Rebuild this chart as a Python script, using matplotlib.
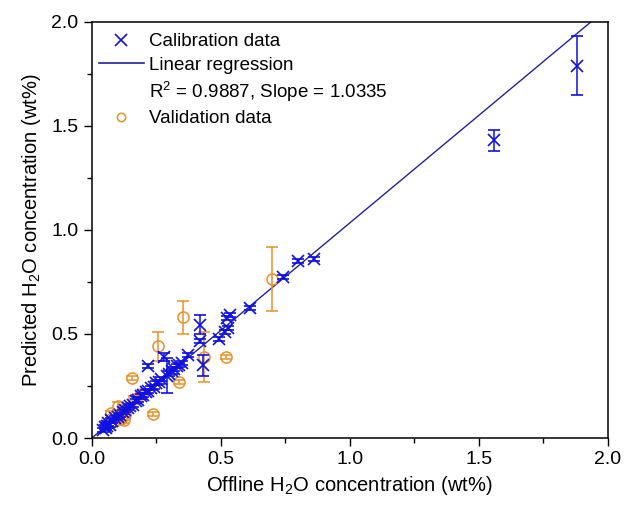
import matplotlib
matplotlib.use('Agg')
import matplotlib.pyplot as plt
from matplotlib.lines import Line2D
import numpy as np

plt.rcParams['font.family'] = ['Liberation Sans', 'DejaVu Sans']
plt.rcParams['mathtext.fontset'] = 'custom'
plt.rcParams['mathtext.rm'] = 'Liberation Sans'

# calibration data (offline, predicted, error)
cal_x = [1.88, 1.56, 0.86, 0.80, 0.74, 0.615, 0.535, 0.525, 0.53, 0.515, 0.495,
         0.42, 0.42, 0.43, 0.375, 0.34, 0.28, 0.29, 0.22, 0.31, 0.30, 0.27,
         0.26, 0.25, 0.24, 0.23, 0.22, 0.21, 0.20, 0.19, 0.18, 0.17, 0.16,
         0.15, 0.14, 0.13, 0.12, 0.11, 0.10, 0.09, 0.08, 0.075, 0.07, 0.065,
         0.06, 0.055, 0.05, 0.045, 0.35, 0.33, 0.32]
cal_y = [1.79, 1.43, 0.86, 0.85, 0.775, 0.625, 0.59, 0.575, 0.53, 0.51, 0.475,
         0.545, 0.465, 0.35, 0.40, 0.35, 0.39, 0.30, 0.345, 0.32, 0.31, 0.285,
         0.27, 0.265, 0.245, 0.24, 0.225, 0.22, 0.205, 0.20, 0.185, 0.18, 0.16,
         0.155, 0.145, 0.135, 0.125, 0.11, 0.10, 0.095, 0.08, 0.085, 0.065, 0.07,
         0.06, 0.05, 0.055, 0.04, 0.36, 0.345, 0.33]
cal_err = [0.14, 0.05, 0.01, 0.01, 0.01, 0.01, 0.01, 0.01, 0.01, 0.01, 0.01,
           0.045, 0.01, 0.05, 0.01, 0.01, 0.02, 0.085, 0.01, 0.01, 0.01, 0.01,
           0.01, 0.01, 0.01, 0.01, 0.01, 0.01, 0.01, 0.01, 0.01, 0.01, 0.01,
           0.01, 0.01, 0.01, 0.01, 0.01, 0.01, 0.01, 0.01, 0.01, 0.01, 0.01,
           0.01, 0.01, 0.01, 0.01, 0.01, 0.01, 0.01]

# validation data
val_x = [0.70, 0.355, 0.257, 0.435, 0.52, 0.34, 0.155, 0.236, 0.10, 0.12,
         0.075, 0.115, 0.125, 0.10, 0.19, 0.165, 0.09, 0.13]
val_y = [0.765, 0.58, 0.44, 0.39, 0.39, 0.27, 0.29, 0.115, 0.155, 0.14,
         0.12, 0.09, 0.085, 0.10, 0.21, 0.19, 0.08, 0.11]
val_err = [0.155, 0.078, 0.07, 0.12, 0.01, 0.01, 0.01, 0.01, 0.02, 0.01,
           0.01, 0.01, 0.015, 0.01, 0.01, 0.01, 0.01, 0.01]

slope = 1.0335
r2 = 0.9887

blue = '#1010e0'
navy = '#23239a'
orange = '#e8912a'

fig = plt.figure(figsize=(6.24, 5.07), dpi=100)
ax = fig.add_axes([0.147, 0.136, 0.827, 0.821])

fit_x = np.array([0.0, 2.0])
ax.plot(fit_x, slope * fit_x, color=navy, lw=1.0, zorder=1)

ax.errorbar(val_x, val_y, yerr=val_err, fmt='o', mfc='none', mec=orange,
            ecolor=orange, ms=8, mew=1.1, elinewidth=1.1, capsize=4,
            capthick=1.1, zorder=2)
ax.errorbar(cal_x, cal_y, yerr=cal_err, fmt='x', color=blue, ms=9, mew=1.2,
            elinewidth=1.1, capsize=4.5, capthick=1.1, zorder=3)

ax.set_xlim(0, 2.0)
ax.set_ylim(0, 2.0)
ax.set_xticks([0, 0.5, 1.0, 1.5, 2.0])
ax.set_yticks([0, 0.5, 1.0, 1.5, 2.0])
ax.set_xticks([0.25, 0.75, 1.25, 1.75], minor=True)
ax.set_yticks([0.25, 0.75, 1.25, 1.75], minor=True)
ax.tick_params(which='major', direction='out', length=6, width=1, labelsize=14)
ax.tick_params(which='minor', direction='out', length=3.5, width=1)
for s in ax.spines.values():
    s.set_linewidth(1.1)

ax.set_xlabel('Offline H$_2$O concentration (wt%)', fontsize=14.5, labelpad=4)
ax.set_ylabel('Predicted H$_2$O concentration (wt%)', fontsize=14.5, labelpad=6)

handles = [
    Line2D([], [], ls='none', marker='x', color=blue, ms=9, mew=1.2),
    Line2D([], [], color=navy, lw=1.2),
    Line2D([], [], ls='none'),
    Line2D([], [], ls='none', marker='o', mfc='none', mec=orange, ms=6, mew=1.1),
]
labels = ['Calibration data', 'Linear regression',
          'R$^2$ = %.4f, Slope = %.4f' % (r2, slope), 'Validation data']
ax.legend(handles, labels, loc='upper left', bbox_to_anchor=(-0.005, 0.995),
          frameon=False, fontsize=13.5, handlelength=2.4, handletextpad=0.3,
          labelspacing=0.32, borderaxespad=0.3, borderpad=0.2)

fig.savefig('out.png', dpi=100)
